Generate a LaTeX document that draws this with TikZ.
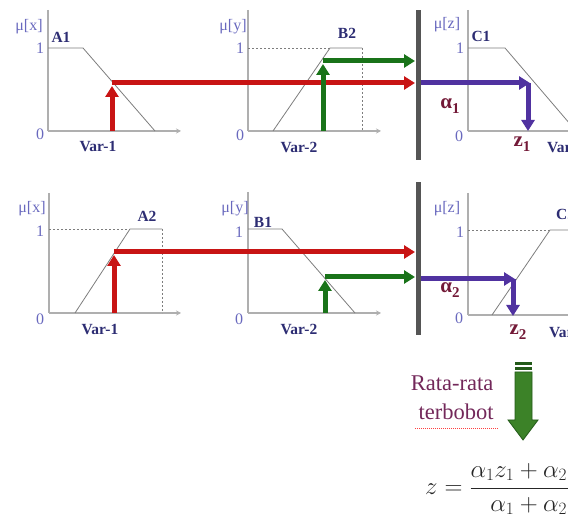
\documentclass[tikz,border=0pt]{standalone}
\usepackage{fontspec}
\setmainfont{Liberation Serif}
\usetikzlibrary{arrows.meta}
\definecolor{axgray}{RGB}{175,175,175}
\definecolor{mfgray}{RGB}{125,125,125}
\definecolor{myred}{RGB}{200,20,20}
\definecolor{mygreen}{RGB}{25,115,25}
\definecolor{myblue}{RGB}{80,50,160}
\definecolor{bargray}{RGB}{85,85,85}
\definecolor{lblblue}{RGB}{105,105,190}
\definecolor{navy}{RGB}{45,45,115}
\definecolor{maroon}{RGB}{115,25,55}
\definecolor{ratac}{RGB}{115,40,90}
\definecolor{agreen}{RGB}{60,130,40}
\definecolor{agreendk}{RGB}{35,90,25}
\begin{document}
\begin{tikzpicture}[x=1pt,y=-1pt,
  xaxis/.style={draw=axgray, line width=1.3pt, -{Stealth[length=5pt,width=5pt]}},
  yaxis/.style={draw=axgray, line width=1.3pt},
  mf/.style={draw=mfgray, line width=0.8pt},
  mfdash/.style={draw=mfgray, line width=0.7pt, dash pattern=on 2pt off 2pt},
  redarr/.style={draw=myred, line width=5pt, -{Triangle[length=11pt,width=13pt]}},
  greenarr/.style={draw=mygreen, line width=5pt, -{Triangle[length=11pt,width=13pt]}},
  bluearr/.style={draw=myblue, line width=5pt, -{Triangle[length=11pt,width=13pt]}},
  lbl/.style={text=lblblue, font=\fontsize{16}{16}\selectfont, inner sep=0pt},
  bl/.style={text=navy, font=\bfseries\fontsize{15.5}{16}\selectfont, inner sep=0pt},
  mr/.style={text=maroon, font=\bfseries\fontsize{21}{21}\selectfont, inner sep=0pt},
  rata/.style={text=ratac, font=\fontsize{22.5}{23}\selectfont, inner sep=0pt}
]
\useasboundingbox (0,0) rectangle (568,518);
\clip (0,0) rectangle (568,518);

% ---------- panel 1 (A1) ----------
\draw[yaxis] (48,10) -- (48,131);
\draw[xaxis] (48,131) -- (181,131);
\draw[mf] (48,48) -- (83,48) -- (155,131);
\node[lbl] (mx1) at (29,27) {μ[x]};
\node[bl] (a1) at (61,37) {A1};
\node[lbl] (one1) at (40,48) {1};
\node[lbl] (zero1) at (40,134) {0};
\node[bl] (v1) at (98,147) {Var-1};

% ---------- panel 2 (B2) ----------
\draw[yaxis] (248,10) -- (248,131);
\draw[xaxis] (248,131) -- (381,131);
\draw[mfdash] (248,48) -- (330,48);
\draw[mf] (273,131) -- (330,48) -- (362,48);
\draw[mfdash] (362,48) -- (362,131);
\node[lbl] (my1) at (233,27) {μ[y]};
\node[bl] (b2) at (347,33) {B2};
\node[lbl] (one2) at (240,48) {1};
\node[lbl] (zero2) at (240,135) {0};
\node[bl] (v2) at (299,147) {Var-2};

% ---------- panel 3 (C1) ----------
\draw[yaxis] (468,10) -- (468,131);
\draw[xaxis] (468,131) -- (600,131);
\draw[mf] (468,48) -- (505,48) -- (576,131);
\node[lbl] (mz1) at (447,25) {μ[z]};
\node[bl] (c1) at (481,36) {C1};
\node[lbl] (one3) at (460,48) {1};
\node[lbl] (zero3) at (459,136) {0};
\node[bl, anchor=west] (v3) at (547,147) {Var-3};

% ---------- panel 4 (A2) ----------
\draw[yaxis] (49,193) -- (49,313);
\draw[xaxis] (49,313) -- (181,313);
\draw[mfdash] (49,229) -- (130,229);
\draw[mf] (75,313) -- (130,229) -- (162,229);
\draw[mfdash] (162,229) -- (162,313);
\node[lbl] (mx2) at (32,209) {μ[x]};
\node[bl] (a2) at (147,216) {A2};
\node[lbl] (one4) at (40,231) {1};
\node[lbl] (zero4) at (40,319) {0};
\node[bl] (v4) at (100,330) {Var-1};

% ---------- panel 5 (B1) ----------
\draw[yaxis] (248,192) -- (248,313);
\draw[xaxis] (248,313) -- (381,313);
\draw[mf] (248,229) -- (282,229) -- (355,313);
\node[lbl] (my2) at (235,209) {μ[y]};
\node[bl] (b1) at (263,222) {B1};
\node[lbl] (one5) at (239,232) {1};
\node[lbl] (zero5) at (239,319) {0};
\node[bl] (v5) at (299,329) {Var-2};

% ---------- panel 6 (C2) ----------
\draw[yaxis] (468,193) -- (468,315);
\draw[xaxis] (468,315) -- (600,315);
\draw[mfdash] (468,230) -- (550,230);
\draw[mf] (492,315) -- (550,230) -- (600,230);
\node[lbl] (mz2) at (447,209) {μ[z]};
\node[bl, anchor=west] (c2) at (556,214) {C2};
\node[lbl] (one6) at (460,232) {1};
\node[lbl] (zero6) at (459,318) {0};
\node[bl, anchor=west] (v6) at (549,332) {Var-3};

% ---------- separating bars ----------
\fill[bargray] (416,10) rectangle (421,160);
\fill[bargray] (416,182) rectangle (421,335);

% ---------- arrows, rule 1 ----------
\coordinate (r1b) at (112,131);
\coordinate (r1c) at (112,83);
\coordinate (r1t) at (112,86);
\coordinate (r1e) at (415,83);
\draw[redarr] (r1b) -- (r1t);
\draw[redarr] (r1c) -- (r1e);

\coordinate (g1b) at (323,131);
\coordinate (g1t) at (323,64);
\coordinate (g1c) at (323,61);
\coordinate (g1e) at (415,61);
\draw[greenarr] (g1b) -- (g1t);
\draw[greenarr] (g1c) -- (g1e);

\coordinate (bl1s) at (421,83);
\coordinate (bl1c) at (530,83);
\coordinate (bl1k) at (528,83);
\coordinate (bl1e) at (528,131);
\draw[bluearr] (bl1s) -- (bl1c);
\draw[bluearr] (bl1k) -- (bl1e);
\node[mr] (al1) at (450,106) {α\raisebox{-5pt}{\fontsize{15}{15}\selectfont 1}};
\node[mr] (z1) at (522,144) {z\raisebox{-5pt}{\fontsize{15}{15}\selectfont 1}};

% ---------- arrows, rule 2 ----------
\coordinate (r2b) at (114,313);
\coordinate (r2t) at (114,255);
\coordinate (r2c) at (114,252);
\coordinate (r2e) at (415,252);
\draw[redarr] (r2b) -- (r2t);
\draw[redarr] (r2c) -- (r2e);

\coordinate (g2b) at (325,313);
\coordinate (g2t) at (325,280);
\coordinate (g2c) at (325,277);
\coordinate (g2e) at (415,277);
\draw[greenarr] (g2b) -- (g2t);
\draw[greenarr] (g2c) -- (g2e);

\coordinate (bl2s) at (421,279);
\coordinate (bl2c) at (515,279);
\coordinate (bl2k) at (513,279);
\coordinate (bl2e) at (513,316);
\draw[bluearr] (bl2s) -- (bl2c);
\draw[bluearr] (bl2k) -- (bl2e);
\node[mr] (al2) at (450,290) {α\raisebox{-5pt}{\fontsize{15}{15}\selectfont 2}};
\node[mr] (z2) at (518,332) {z\raisebox{-5pt}{\fontsize{15}{15}\selectfont 2}};

% ---------- weighted average ----------
\node[rata] (rt1) at (452,383) {Rata-rata};
\node[rata] (rt2) at (456,412) {terbobot};
\draw[red!75, line width=0.7pt, dash pattern=on 1pt off 1pt] (415,428) -- (498,428);

\fill[agreendk] (515,362) rectangle (532,364.8);
\fill[agreendk] (515,367) rectangle (532,369.8);
\draw[fill=agreen, draw=agreendk, line width=0.8pt]
  (515,372) -- (532,372) -- (532,420) -- (538,420) -- (523,440) -- (508,420) -- (515,420) -- cycle;

\node[anchor=west, inner sep=0pt, text=black!85, font=\fontsize{23}{27}\selectfont] (fz) at (425,489)
  {$\displaystyle z=\frac{\alpha_1 z_1+\alpha_2 z_2}{\alpha_1+\alpha_2}$};
\end{tikzpicture}
\end{document}
